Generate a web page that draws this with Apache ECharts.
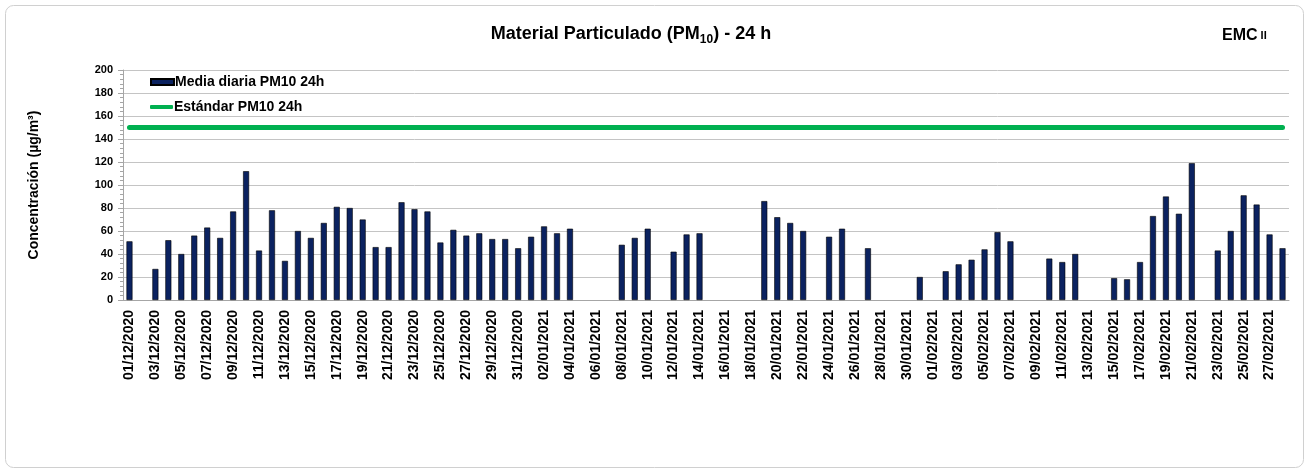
<!DOCTYPE html>
<html>
<head>
<meta charset="utf-8">
<script src="https://cdn.jsdelivr.net/npm/echarts@6/dist/echarts.min.js"></script>
<style>
  html, body { margin: 0; padding: 0; background: #fff; }
  #chart { width: 1306px; height: 470px; }
</style>
</head>
<body>
<div id="chart"></div>
<script>
// fechas (dic 2020 - feb 2021)
var fechas = [
    '01/12/2020','02/12/2020','03/12/2020','04/12/2020','05/12/2020','06/12/2020','07/12/2020','08/12/2020','09/12/2020','10/12/2020',
    '11/12/2020','12/12/2020','13/12/2020','14/12/2020','15/12/2020','16/12/2020','17/12/2020','18/12/2020','19/12/2020','20/12/2020',
    '21/12/2020','22/12/2020','23/12/2020','24/12/2020','25/12/2020','26/12/2020','27/12/2020','28/12/2020','29/12/2020','30/12/2020',
    '31/12/2020','01/01/2021','02/01/2021','03/01/2021','04/01/2021','05/01/2021','06/01/2021','07/01/2021','08/01/2021','09/01/2021',
    '10/01/2021','11/01/2021','12/01/2021','13/01/2021','14/01/2021','15/01/2021','16/01/2021','17/01/2021','18/01/2021','19/01/2021',
    '20/01/2021','21/01/2021','22/01/2021','23/01/2021','24/01/2021','25/01/2021','26/01/2021','27/01/2021','28/01/2021','29/01/2021',
    '30/01/2021','31/01/2021','01/02/2021','02/02/2021','03/02/2021','04/02/2021','05/02/2021','06/02/2021','07/02/2021','08/02/2021',
    '09/02/2021','10/02/2021','11/02/2021','12/02/2021','13/02/2021','14/02/2021','15/02/2021','16/02/2021','17/02/2021','18/02/2021',
    '19/02/2021','20/02/2021','21/02/2021','22/02/2021','23/02/2021','24/02/2021','25/02/2021','26/02/2021','27/02/2021','28/02/2021'
];

// media diaria PM10 (null = sin dato)
var mediaDiaria = [
    51, null, 27, 52, 40, 56, 63, 54, 77, 112,
    43, 78, 34, 60, 54, 67, 81, 80, 70, 46,
    46, 85, 79, 77, 50, 61, 56, 58, 53, 53,
    45, 55, 64, 58, 62, null, null, null, 48, 54,
    62, null, 42, 57, 58, null, null, null, null, 86,
    72, 67, 60, null, 55, 62, null, 45, null, null,
    null, 20, null, 25, 31, 35, 44, 59, 51, null,
    null, 36, 33, 40, null, null, 19, 18, 33, 73,
    90, 75, 119, null, 43, 60, 91, 83, 57, 45
];

// estandar PM10 24h
var estandar = 150;
var estandarSerie = fechas.map(function () { return estandar; });

var yTicks = { min: 0, max: 200, interval: 20 };

var fuente = 'Liberation Sans, Arial, sans-serif';

var myChart = echarts.init(document.getElementById('chart'));

var legendText = { fontFamily: fuente, fontSize: 14, fontWeight: 'bold', color: '#000', padding: [0, 0, 0, -4] };

var option = {
    animation: false,
    backgroundColor: '#fff',
    textStyle: { fontFamily: fuente },
    title: [
        {
            text: '{a|Material Particulado (PM}{s|10}{a|) - 24 h}',
            left: 626,
            textAlign: 'center',
            top: 17,
            textStyle: {
                rich: {
                    a: { fontFamily: fuente, fontSize: 18, fontWeight: 'bold', color: '#000', lineHeight: 24, verticalAlign: 'middle' },
                    s: { fontFamily: fuente, fontSize: 12, fontWeight: 'bold', color: '#000', lineHeight: 14, padding: [10, 0, 0, 0], verticalAlign: 'bottom' }
                }
            }
        },
        {
            text: '{a|EMC}{b| II}',
            left: 1217,
            top: 20,
            textStyle: {
                rich: {
                    a: { fontFamily: fuente, fontSize: 16, fontWeight: 'bold', color: '#000', lineHeight: 22 },
                    b: { fontFamily: fuente, fontSize: 11, fontWeight: 'bold', color: '#000', lineHeight: 22 }
                }
            }
        }
    ],
    graphic: [
        {
            type: 'rect',
            shape: { x: 5.5, y: 5.5, width: 1298, height: 462, r: 8 },
            style: { fill: 'none', stroke: '#d0d0d0', lineWidth: 1 },
            silent: true,
            z: -1
        }
    ],
    legend: [
        {
            left: 145,
            top: 70,
            itemWidth: 23,
            itemHeight: 6,
            textStyle: legendText,
            data: [{ name: 'Media diaria PM10 24h', icon: 'rect' }]
        },
        {
            left: 145,
            top: 95,
            itemWidth: 23,
            itemHeight: 4,
            textStyle: legendText,
            data: [{ name: 'Estándar PM10 24h', icon: 'roundRect' }]
        }
    ],
    grid: {
        left: 123,
        right: 17,
        top: 70,
        bottom: 170
    },
    xAxis: {
        type: 'category',
        data: fechas,
        boundaryGap: true,
        axisLine: { lineStyle: { color: '#a6a6a6' } },
        axisTick: { interval: 1, length: 5, lineStyle: { color: '#a6a6a6' } },
        axisLabel: {
            interval: 1,
            rotate: 90,
            fontFamily: fuente,
            fontSize: 14,
            fontWeight: 'bold',
            color: '#000',
            margin: 10
        },
        splitLine: { show: false }
    },
    yAxis: {
        type: 'value',
        min: yTicks.min,
        max: yTicks.max,
        interval: yTicks.interval,
        name: 'Concentración (µg/m³)',
        nameLocation: 'middle',
        nameGap: 82,
        nameTextStyle: { fontFamily: fuente, fontSize: 14, fontWeight: 'bold', color: '#000' },
        axisLine: { show: true, lineStyle: { color: '#a6a6a6' } },
        axisTick: { show: true, length: 5, lineStyle: { color: '#a6a6a6' } },
        minorTick: { show: true, splitNumber: 5, length: 3, lineStyle: { color: '#a6a6a6' } },
        axisLabel: { fontFamily: fuente, fontSize: 11, fontWeight: 'bold', color: '#000', margin: 10 },
        splitLine: { show: true, lineStyle: { color: '#c4c4c4', width: 1 } }
    },
    series: [
        {
            name: 'Media diaria PM10 24h',
            type: 'bar',
            data: mediaDiaria,
            barWidth: 6,
            itemStyle: { color: '#0b2260', borderColor: '#000', borderWidth: 0.6 },
            emphasis: { disabled: true }
        },
        {
            name: 'Estándar PM10 24h',
            type: 'line',
            data: estandarSerie,
            symbol: 'none',
            lineStyle: { color: '#00b050', width: 5, cap: 'round' },
            itemStyle: { color: '#00b050' },
            emphasis: { disabled: true },
            z: 3
        }
    ]
};

myChart.setOption(option);

window.onresize = function () {
    myChart.resize();
};
</script>
</body>
</html>
